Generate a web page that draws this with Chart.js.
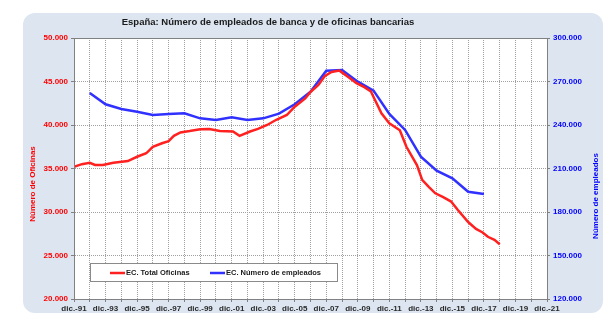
<!DOCTYPE html>
<html lang="es">
<head>
<meta charset="UTF-8">
<title>España: empleados de banca y oficinas bancarias</title>
<script src="https://cdn.jsdelivr.net/npm/chart.js"></script>
<style>
  html, body { margin: 0; padding: 0; background: #fff; }
  #wrap { width: 614px; height: 324px; }
</style>
</head>
<body>
<div id="wrap"><canvas id="bancaChart" width="614" height="324"></canvas></div>
<script>
const titulo = 'España: Número de empleados de banca y de oficinas bancarias';
const tituloOficinas = 'Número de Oficinas';
const tituloEmpleados = 'Número de empleados';
const etiquetaOficinas = 'EC. Total Oficinas';
const etiquetaEmpleados = 'EC. Número de empleados';

// Total de oficinas (aaaa-mm)
const oficinasFechas = [
    '1991-12', '1992-06', '1992-12', '1993-04', '1993-10', '1994-06', '1995-05', '1995-12',
    '1996-07', '1996-12', '1997-07', '1997-12', '1998-04', '1998-09', '1999-04', '1999-12',
    '2000-07', '2001-03', '2002-01', '2002-06', '2003-02', '2003-08', '2004-03', '2004-10',
    '2005-06', '2005-12', '2006-08', '2006-12', '2007-06', '2007-11', '2008-04', '2008-10',
    '2009-05', '2009-11', '2010-05', '2010-10', '2011-01', '2011-06', '2011-12', '2012-08',
    '2013-01', '2013-09', '2014-01', '2014-06', '2014-11', '2015-05', '2015-11', '2016-04',
    '2016-12', '2017-06', '2017-11', '2018-03', '2018-08', '2018-12'
];
const oficinasValores = [
    35200, 35500, 35650, 35400, 35400, 35650, 35850, 36350,
    36750, 37500, 37900, 38150, 38750, 39150, 39300, 39500,
    39550, 39300, 39250, 38750, 39250, 39550, 40000, 40600,
    41150, 42100, 43050, 43800, 44600, 45650, 46100, 46250,
    45500, 44800, 44350, 43850, 42900, 41350, 40200, 39400,
    37500, 35400, 33700, 32900, 32150, 31700, 31200, 30250,
    28850, 28050, 27650, 27150, 26800, 26300
];

// Empleados, dato de diciembre
const empleadosAnios = [
    1992, 1993, 1994, 1995, 1996, 1997, 1998, 1999, 2000, 2001, 2002, 2003, 2004,
    2005, 2006, 2007, 2008, 2009, 2010, 2011, 2012, 2013, 2014, 2015, 2016, 2017
];
const empleadosValores = [
    262000, 254300, 251000, 249200, 246900, 247600, 248100, 244600, 243400, 245300, 243400, 244600, 247800,
    254300, 263000, 277400, 277900, 269900, 263700, 247600, 236600, 218100, 208500, 203200, 194000, 192400
];

// ejes
const anioInicio = 1991;   // dic.-91
const anioFin = 2021;      // dic.-21
const oficinasMin = 20000, oficinasMax = 50000, oficinasPaso = 5000;
const empleadosMin = 120000, empleadosMax = 300000, empleadosPaso = 30000;

const fuente = "'Liberation Sans', Arial, sans-serif";
const rojo = '#ff2020';
const azul = '#3030ff';

// meses transcurridos desde dic. del primer año
function mesesDesdeInicio(fecha) {
    const [a, m] = fecha.split('-').map(Number);
    return (a - anioInicio) * 12 + (m - 12);
}

function miles(v) {
    return String(v).replace(/\B(?=(\d{3})+(?!\d))/g, '.');
}

const puntosOficinas = oficinasFechas.map((f, i) => ({ x: mesesDesdeInicio(f), y: oficinasValores[i] }));
const puntosEmpleados = empleadosAnios.map((a, i) => ({ x: (a - anioInicio) * 12, y: empleadosValores[i] }));

const panelPlugin = {
    id: 'panel',
    beforeDraw(chart) {
        const ctx = chart.ctx;
        const a = chart.chartArea;
        ctx.save();
        ctx.fillStyle = '#ffffff';
        ctx.fillRect(0, 0, chart.width, chart.height);
        ctx.fillStyle = '#dce5f0';
        ctx.beginPath();
        ctx.roundRect(23, 13, 580, 300, 12);
        ctx.fill();
        ctx.fillStyle = '#ffffff';
        ctx.fillRect(a.left, a.top, a.right - a.left, a.bottom - a.top);
        ctx.restore();
    },
    afterDraw(chart) {
        const ctx = chart.ctx;
        const a = chart.chartArea;
        ctx.save();
        // marco del área de trazado
        ctx.strokeStyle = '#808080';
        ctx.lineWidth = 1;
        ctx.strokeRect(a.left + 0.5, a.top + 0.5, a.right - a.left, a.bottom - a.top);

        // título
        ctx.fillStyle = '#1a1a1a';
        ctx.font = 'bold 9.5px ' + fuente;
        ctx.textAlign = 'center';
        ctx.textBaseline = 'middle';
        ctx.fillText(titulo, 268, 22);

        // títulos de ejes
        ctx.font = 'bold 8px ' + fuente;
        ctx.save();
        ctx.translate(33, 184);
        ctx.rotate(-Math.PI / 2);
        ctx.fillStyle = '#ff0000';
        ctx.fillText(tituloOficinas, 0, 0);
        ctx.restore();
        ctx.save();
        ctx.translate(596, 196);
        ctx.rotate(-Math.PI / 2);
        ctx.fillStyle = '#0000ff';
        ctx.fillText(tituloEmpleados, 0, 0);
        ctx.restore();

        // leyenda
        ctx.fillStyle = '#ffffff';
        ctx.fillRect(90, 263, 247, 18);
        ctx.strokeStyle = '#8a8a8a';
        ctx.strokeRect(90.5, 263.5, 247, 18);
        const items = [[110, chart.data.datasets[0]], [210, chart.data.datasets[1]]];
        ctx.textAlign = 'left';
        ctx.font = 'bold 7.5px ' + fuente;
        items.forEach(([x, ds]) => {
            ctx.strokeStyle = ds.borderColor;
            ctx.lineWidth = 2.5;
            ctx.beginPath();
            ctx.moveTo(x, 273);
            ctx.lineTo(x + 15, 273);
            ctx.stroke();
            ctx.fillStyle = '#1a1a1a';
            ctx.fillText(ds.label, x + 16, 273);
        });
        ctx.restore();
    }
};

new Chart(document.getElementById('bancaChart'), {
    type: 'line',
    data: {
        datasets: [{
            label: etiquetaOficinas,
            data: puntosOficinas,
            yAxisID: 'y',
            borderColor: rojo,
            borderWidth: 2.5,
            pointRadius: 0,
            tension: 0
        }, {
            label: etiquetaEmpleados,
            data: puntosEmpleados,
            yAxisID: 'y1',
            borderColor: azul,
            borderWidth: 2.5,
            pointRadius: 0,
            tension: 0
        }]
    },
    options: {
        responsive: false,
        animation: false,
        events: [],
        layout: { padding: { top: 38, left: 0, right: 0, bottom: 0 } },
        plugins: {
            legend: { display: false },
            title: { display: false },
            tooltip: { enabled: false }
        },
        scales: {
            x: {
                type: 'linear',
                min: 0,
                max: (anioFin - anioInicio) * 12,
                afterFit: s => { s.height = 25; },
                ticks: {
                    stepSize: 12,
                    autoSkip: false,
                    maxRotation: 0,
                    padding: 2,
                    color: '#2a2a2a',
                    font: { family: fuente, size: 8, weight: 'bold' },
                    callback: v => v % 24 === 0 ? 'dic.-' + String((anioInicio + v / 12) % 100).padStart(2, '0') : ''
                },
                grid: { color: '#a0a0a0', tickLength: 3, tickColor: '#808080', tickBorderDash: [] },
                border: { color: '#808080', dash: [1, 1] }
            },
            y: {
                position: 'left',
                min: oficinasMin,
                max: oficinasMax,
                afterFit: s => { s.width = 74; },
                ticks: {
                    stepSize: oficinasPaso,
                    padding: 3,
                    color: '#ff0000',
                    font: { family: fuente, size: 8, weight: 'bold' },
                    callback: v => miles(v)
                },
                grid: { color: '#a0a0a0', tickLength: 3, tickColor: '#808080', tickBorderDash: [] },
                border: { color: '#808080', dash: [1, 1] }
            },
            y1: {
                position: 'right',
                min: empleadosMin,
                max: empleadosMax,
                afterFit: s => { s.width = 67; },
                ticks: {
                    stepSize: empleadosPaso,
                    padding: 3,
                    color: '#0000ff',
                    font: { family: fuente, size: 8, weight: 'bold' },
                    callback: v => miles(v)
                },
                grid: { drawOnChartArea: false, tickLength: 3, tickColor: '#808080' },
                border: { color: '#808080' }
            }
        }
    },
    plugins: [panelPlugin]
});
</script>
</body>
</html>
